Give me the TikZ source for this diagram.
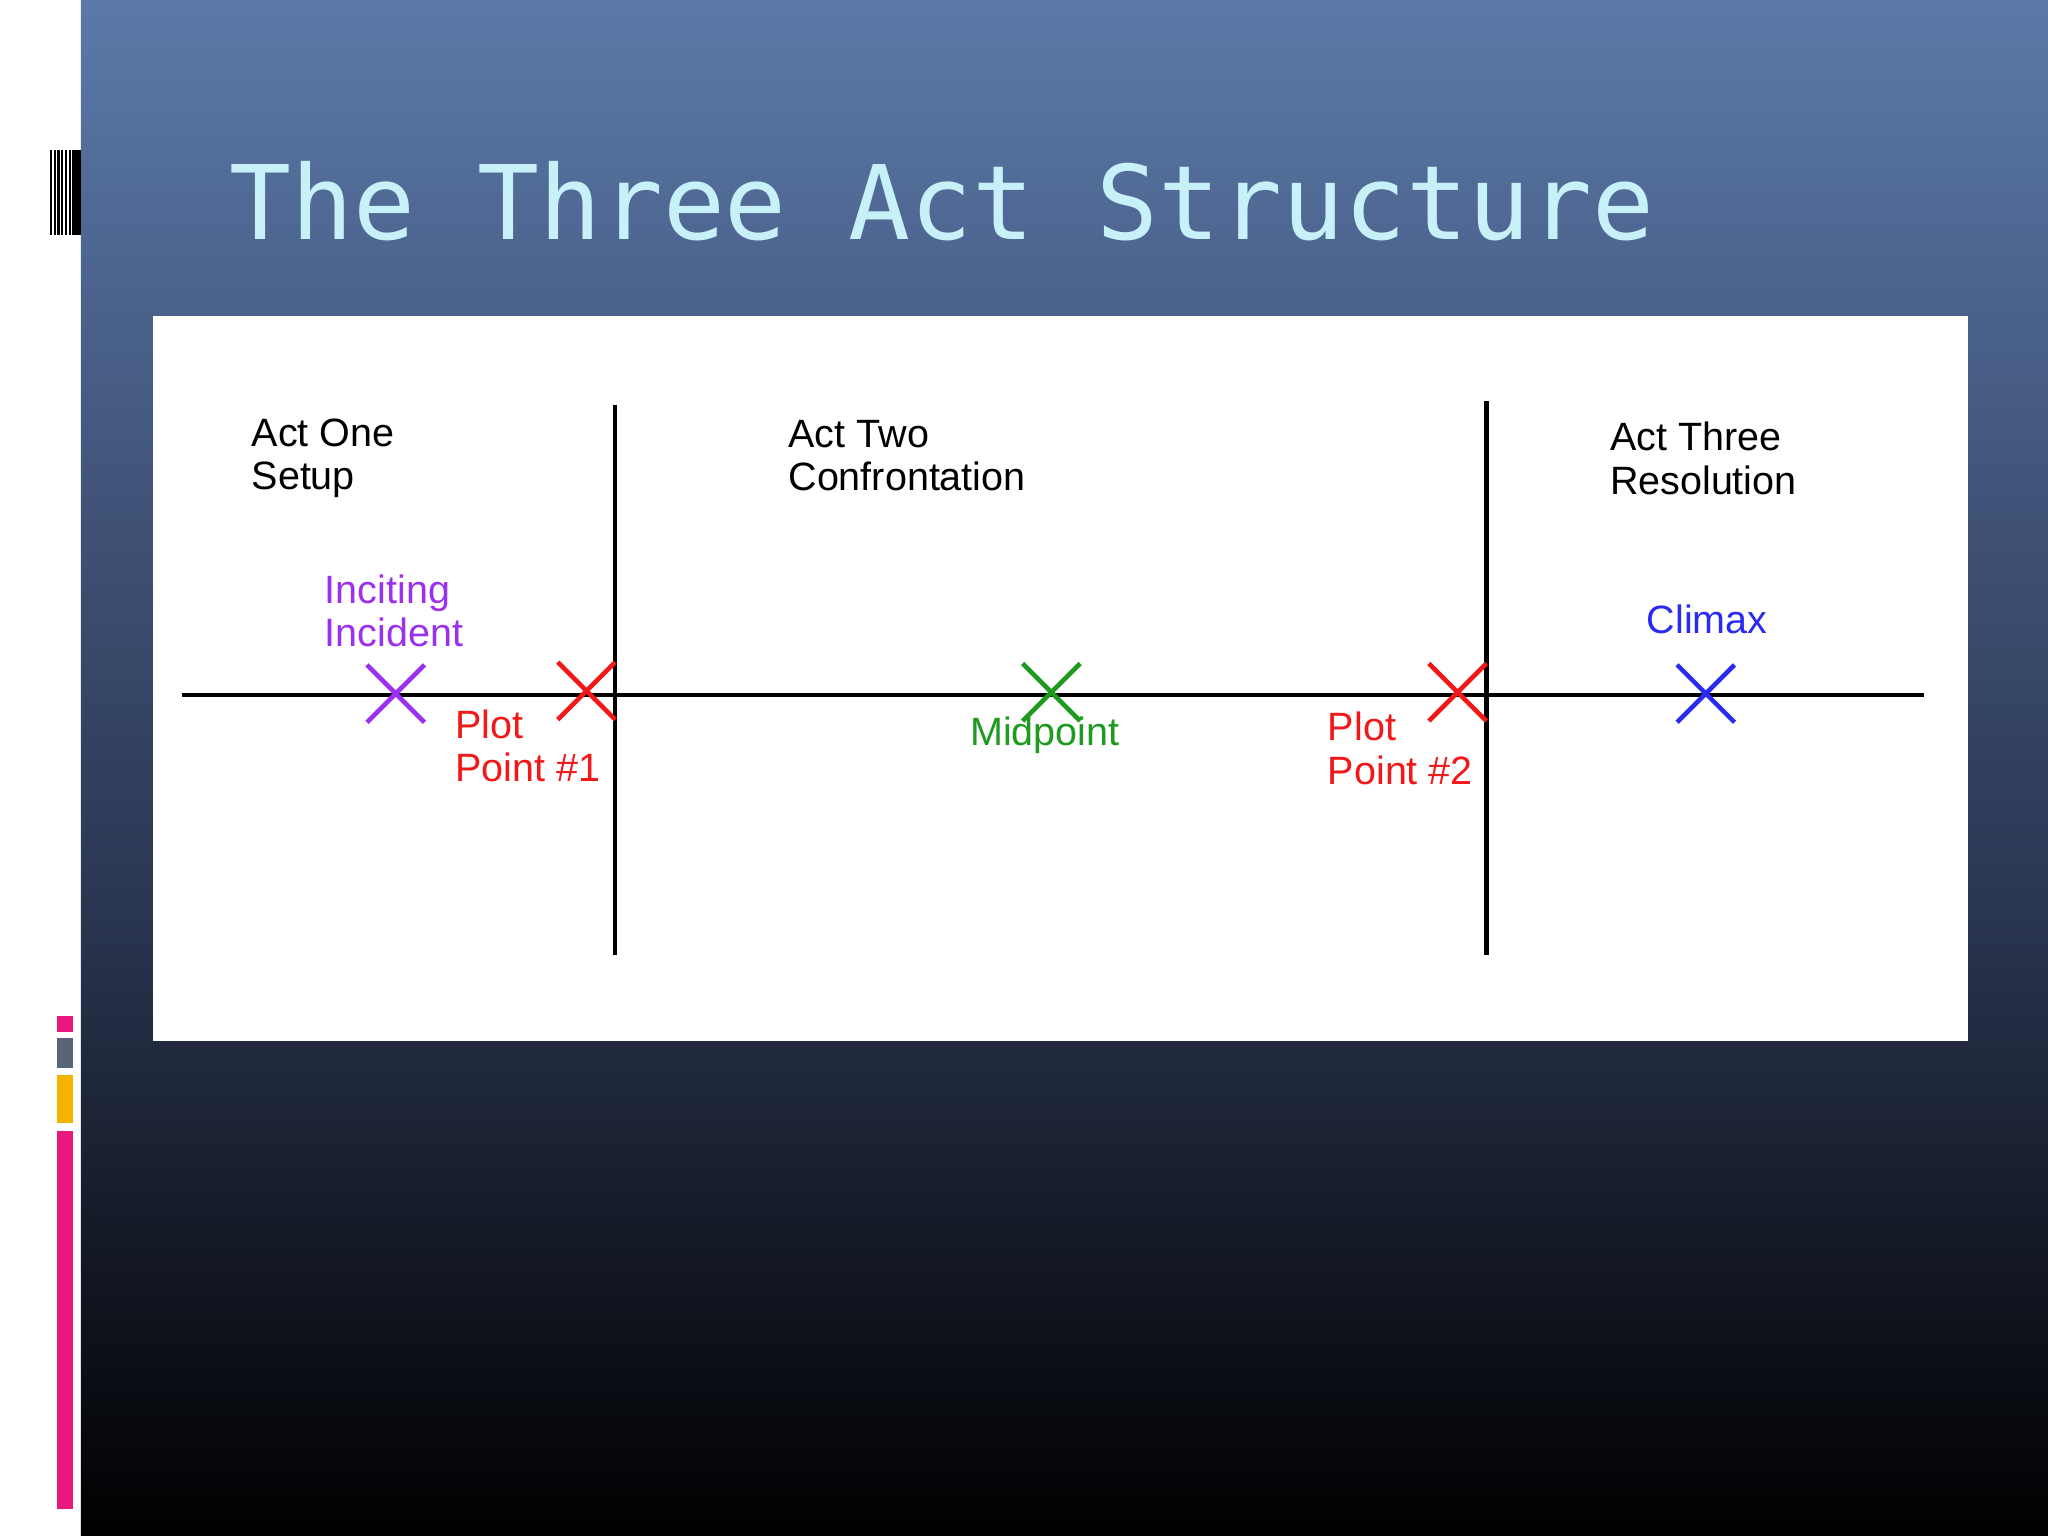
\documentclass[tikz,border=0pt]{standalone}
\usepackage{fontspec}
\setmainfont{Liberation Sans}
\newfontfamily\titlefont{DejaVu Sans Mono}
\definecolor{bgtop}{HTML}{5B79A9}
\definecolor{bgmid}{HTML}{2A3550}
\definecolor{titlec}{HTML}{C8F0F8}
\definecolor{pinkbar}{HTML}{E8197A}
\definecolor{graybar}{HTML}{5A6478}
\definecolor{orangebar}{HTML}{F5B400}
\definecolor{purp}{HTML}{9B30F0}
\definecolor{redx}{HTML}{F01818}
\definecolor{greenx}{HTML}{1E9A1E}
\definecolor{bluex}{HTML}{2A2AF0}
\begin{document}
\begin{tikzpicture}[x=0.01cm,y=-0.01cm,
  lbl/.style={font=\fontsize{8.6pt}{9.4pt}\selectfont,align=left,inner sep=0pt},
  xmark/.style={line width=1pt}]
\useasboundingbox (0,0) rectangle (1568,1176);
\fill[white] (0,0) rectangle (62,1176);
\shade[top color=bgtop,bottom color=bgmid] (62,0) rectangle (1568,700);
\shade[top color=bgmid,bottom color=black] (62,700) rectangle (1568,1176);
% left icon
\foreach \xx in {38,41,44,47,50,53} \fill[black] (\xx,115) rectangle (\xx+1.6,180);
\fill[black] (55,115) rectangle (62,180);
\fill[pinkbar] (44,778) rectangle (56,790);
\fill[graybar] (44,795) rectangle (56,818);
\fill[orangebar] (44,823) rectangle (56,860);
\fill[pinkbar] (44,866) rectangle (56,1155);
% title
\node[anchor=base west,inner sep=0pt,text=titlec,font=\titlefont\fontsize{22.4pt}{26pt}\selectfont] (title) at (175,183) {The Three Act Structure};
% panel
\fill[white] (117,242) rectangle (1507,797);
\coordinate (hl) at (139,532); \coordinate (hr) at (1473,532);
\draw[line width=1pt] (hl) -- (hr);
\coordinate (v1t) at (471,310); \coordinate (v1b) at (471,731);
\coordinate (v2t) at (1138,307); \coordinate (v2b) at (1138,731);
\draw[line width=1pt] (v1t) -- (v1b);
\draw[line width=1pt] (v2t) -- (v2b);
% labels
\node[lbl,anchor=west] (a1) at (192,351) {Act One\\Setup};
\node[lbl,anchor=west] (a2) at (603,349) {Act Two\\Confrontation};
\node[lbl,anchor=west] (a3) at (1232,351) {Act Three\\Resolution};
\node[lbl,anchor=west,text=purp] (ii) at (248,468) {Inciting\\Incident};
\node[lbl,anchor=west,text=redx] (pp1) at (348,571) {Plot\\Point \#1};
\node[lbl,anchor=center,text=greenx] (mid) at (800,563) {Midpoint};
\node[lbl,anchor=west,text=redx] (pp2) at (1016,573) {Plot\\Point \#2};
\node[lbl,anchor=center,text=bluex] (cl) at (1307,474) {Climax};
% marks
\foreach \cx/\cy/\cc in {303/531/purp,449/529/redx,805/530/greenx,1116/530/redx,1306/531/bluex}{
  \draw[xmark,\cc] (\cx-22,\cy-22) -- (\cx+22,\cy+22) (\cx-22,\cy+22) -- (\cx+22,\cy-22);
}
\end{tikzpicture}
\end{document}
